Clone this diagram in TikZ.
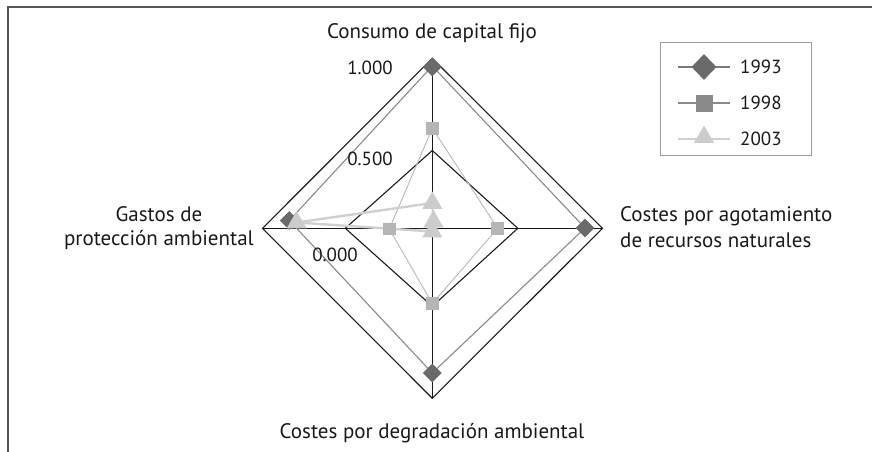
\documentclass[tikz,border=0pt]{standalone}
\usepackage{fontspec}
\setmainfont{PT Sans}
\usetikzlibrary{shapes.geometric}
\definecolor{gridc}{HTML}{1A1A1A}
\definecolor{sAline}{HTML}{8A8A8A}
\definecolor{sAmark}{HTML}{6A6A6A}
\definecolor{sBline}{HTML}{BDBDBD}
\definecolor{sBmark}{HTML}{B5B5B5}
\definecolor{sCline}{HTML}{D0D0D0}
\definecolor{sCmark}{HTML}{CCCCCC}
\definecolor{frame}{HTML}{555555}
\definecolor{legframe}{HTML}{9A9A9A}
\begin{document}
\begin{tikzpicture}[x=1pt,y=-1pt,
  lbl/.style={font=\fontsize{21}{24}\selectfont, text=black!90, inner sep=0pt},
  num/.style={font=\fontsize{19}{22}\selectfont, text=black!90, inner sep=0pt},
  gridline/.style={draw=gridc, line width=1.1pt, line join=miter},
  lineA/.style={draw=sAline, line width=1.1pt},
  lineB/.style={draw=sBline, line width=1pt},
  lineC/.style={draw=sCline, line width=2.4pt, line join=round},
  mkA/.style={diamond, fill=sAmark, inner sep=0pt, minimum size=19pt},
  mkB/.style={rectangle, fill=sBmark, inner sep=0pt, minimum size=12.5pt},
  mkC/.style={regular polygon, regular polygon sides=3, fill=sCmark, inner sep=0pt, minimum size=23pt},
]
\useasboundingbox (0,0) rectangle (872,452);
% outer frame
\draw[frame, line width=2pt] (8,452) -- (8,7) -- (872,7);

% grid
\coordinate (c) at (432.3,228.3);
\coordinate (ot) at (432.3,58.3);
\coordinate (or) at (602.5,228.3);
\coordinate (ob) at (432.3,398.3);
\coordinate (ol) at (262.5,228.3);
\coordinate (it) at (432.3,150.5);
\coordinate (ir) at (517.8,228.3);
\coordinate (ib) at (432.3,306.3);
\coordinate (il) at (345.3,228.3);
\draw[gridline] (ot) -- (or) -- (ob) -- (ol) -- cycle;
\draw[gridline] (it) -- (ir) -- (ib) -- (il) -- cycle;
\draw[gridline] (ot) -- (ob);
\draw[gridline] (ol) -- (or);

% series coordinates
\coordinate (a1) at (432.3,66);
\coordinate (a2) at (585,228);
\coordinate (a3) at (432.3,373);
\coordinate (a4) at (289.3,220.5);
\coordinate (b1) at (432.3,128.3);
\coordinate (b2) at (497.7,228.3);
\coordinate (b3) at (432.3,303.5);
\coordinate (b4) at (389.3,229);
\coordinate (c1) at (432.3,203);
\coordinate (c2) at (433.5,221.5);
\coordinate (c3) at (432.3,231.5);
\coordinate (c4) at (296.7,222.5);

\draw[lineA] (a1) -- (a2) -- (a3) -- (a4) -- cycle;
\draw[lineB] (b1) -- (b2) -- (b3) -- (b4) -- cycle;
\draw[lineC] (c1) -- (c2) -- (c3) -- (c4) -- cycle;

\node[mkA] (ma1) at (432.3,67) {};
\node[mkA] (ma2) at (a2) {};
\node[mkA] (ma3) at (a3) {};
\node[mkA] (ma4) at (a4) {};
\node[mkB] (mb1) at (b1) {};
\node[mkB] (mb2) at (b2) {};
\node[mkB] (mb3) at (b3) {};
\node[mkB] (mb4) at (b4) {};
\node[mkC] (mc1) at (c1) {};
\node[mkC] (mc2) at (c2) {};
\node[mkC] (mc3) at (c3) {};
\node[mkC] (mc4) at (c4) {};

% axis value labels
\node[num] (v1) at (370,68) {1.000};
\node[num] (v2) at (370,159) {0.500};
\node[num] (v3) at (335,255) {0.000};

% category labels
\node[lbl] (tTop) at (432,33) {Consumo de capital fijo};
\node[lbl] (tBot) at (432,433) {Costes por degradación ambiental};
\node[lbl, anchor=east, align=center] (tL) at (254,228) {Gastos de\\protección ambiental};
\node[lbl, anchor=west] (tR1) at (620,216) {Costes por agotamiento};
\node[lbl, anchor=west] (tR2) at (620,240) {de recursos naturales};

% legend
\draw[legframe, line width=1pt] (660,43) rectangle (811,155);
\coordinate (la1) at (678,67);  \coordinate (la2) at (730,67);
\coordinate (lb1) at (678,103); \coordinate (lb2) at (730,103);
\coordinate (lc1) at (678,139); \coordinate (lc2) at (730,139);
\draw[draw=sAmark!90, line width=1.8pt] (la1) -- (la2);
\draw[draw=sAline, line width=1.8pt] (lb1) -- (lb2);
\draw[draw=sCline, line width=1.8pt] (lc1) -- (lc2);
\node[diamond, fill=sAmark, inner sep=0pt, minimum width=25pt, minimum height=26pt] (lma) at (704,67) {};
\node[rectangle, fill=sAline, inner sep=0pt, minimum size=17pt] (lmb) at (704,103) {};
\node[regular polygon, regular polygon sides=3, fill=sCmark, inner sep=0pt, minimum size=23pt] (lmc) at (704,137) {};
\node[num, anchor=west] (ly1) at (740,67) {1993};
\node[num, anchor=west] (ly2) at (740,103) {1998};
\node[num, anchor=west] (ly3) at (740,139) {2003};
\end{tikzpicture}
\end{document}
